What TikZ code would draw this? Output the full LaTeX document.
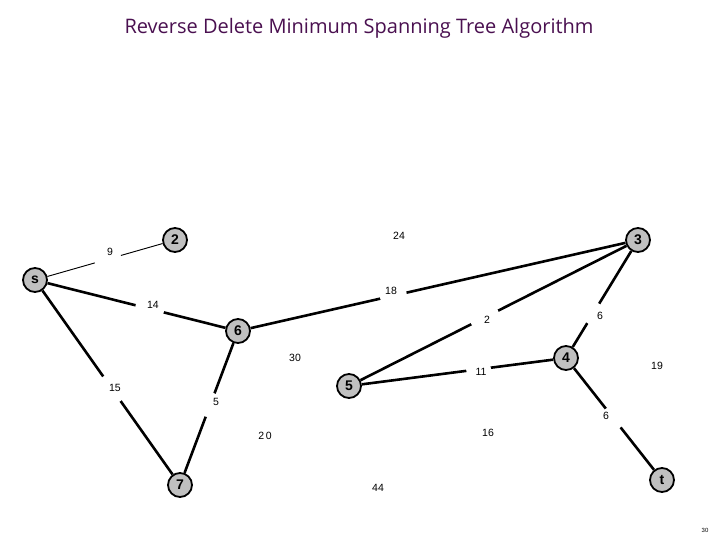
\documentclass[tikz,border=0pt]{standalone}
\usepackage{fontspec}
\setmainfont{Liberation Sans}
\newfontfamily\titlefont{Open Sans}
\definecolor{titlepurple}{HTML}{4A1050}
\definecolor{nodegray}{HTML}{C0C0C0}
\begin{document}
\begin{tikzpicture}[x=1pt,y=-1pt,
  vert/.style={circle,draw=black,line width=1.8pt,fill=nodegray,minimum size=24pt,inner sep=0pt,font=\bfseries\fontsize{14}{14}\selectfont},
  edgeline/.style={line width=2.6pt},
  thinedge/.style={line width=0.9pt},
  gap/.style={circle,fill=white,inner sep=0pt,minimum size=#1},
  flbl/.style={inner sep=0pt,font=\fontsize{10.5}{11}\selectfont}]
\useasboundingbox (0,0) rectangle (720,540);
\node[text=titlepurple,font=\titlefont\fontsize{20}{20}\selectfont] (title) at (359,28) {Reverse Delete Minimum Spanning Tree Algorithm};
% vertices
\node[vert] (s) at (35,280) {s};
\node[vert] (v2) at (175,240) {2};
\node[vert] (v3) at (638,240) {3};
\node[vert] (v6) at (238,331) {6};
\node[vert] (v5) at (349,386) {5};
\node[vert] (v4) at (566,358) {4};
\node[vert] (v7) at (180,485) {7};
\node[vert] (t) at (662,480) {t};
% edges, each with a white gap where its weight stands
\draw[thinedge] (s) -- node[gap=27pt,pos=0.525] (g9) {} (v2);
\draw[edgeline] (s) -- node[gap=29pt,pos=0.574] (g14) {} (v6);
\draw[edgeline] (s) -- node[gap=30pt,pos=0.534] (g15) {} (v7);
\draw[edgeline] (v6) -- node[gap=27pt,pos=0.381] (g18) {} (v3);
\draw[edgeline] (v5) -- node[gap=30pt,pos=0.467] (g2) {} (v3);
\draw[edgeline] (v3) -- node[gap=23pt,pos=0.65] (g6a) {} (v4);
\draw[edgeline] (v5) -- node[gap=25pt,pos=0.61] (g11) {} (v4);
\draw[edgeline] (v4) -- node[gap=24pt,pos=0.49] (g6b) {} (t);
\draw[edgeline] (v6) -- node[gap=25pt,pos=0.477] (g5) {} (v7);
% weights
\node[flbl] (l9) at (110,252) {9};
\node[flbl] (l14) at (153,305) {14};
\node[flbl] (l15) at (115,388) {15};
\node[flbl] (l18) at (391,291) {18};
\node[flbl] (l2) at (487,320) {2};
\node[flbl] (l6a) at (600,316) {6};
\node[flbl] (l11) at (481,372) {11};
\node[flbl] (l6b) at (606,416) {6};
\node[flbl] (l5) at (216,402) {5};
\node[flbl] (l24) at (399,236) {24};
\node[flbl] (l30) at (295,358) {30};
\node[flbl] (l20) at (265,436) {2\,0};
\node[flbl] (l16) at (488,433) {16};
\node[flbl] (l44) at (378,488) {44};
\node[flbl] (l19) at (657,366) {19};
\node[inner sep=0pt,font=\fontsize{6}{6}\selectfont] (page) at (705,530) {30};
\end{tikzpicture}
\end{document}
